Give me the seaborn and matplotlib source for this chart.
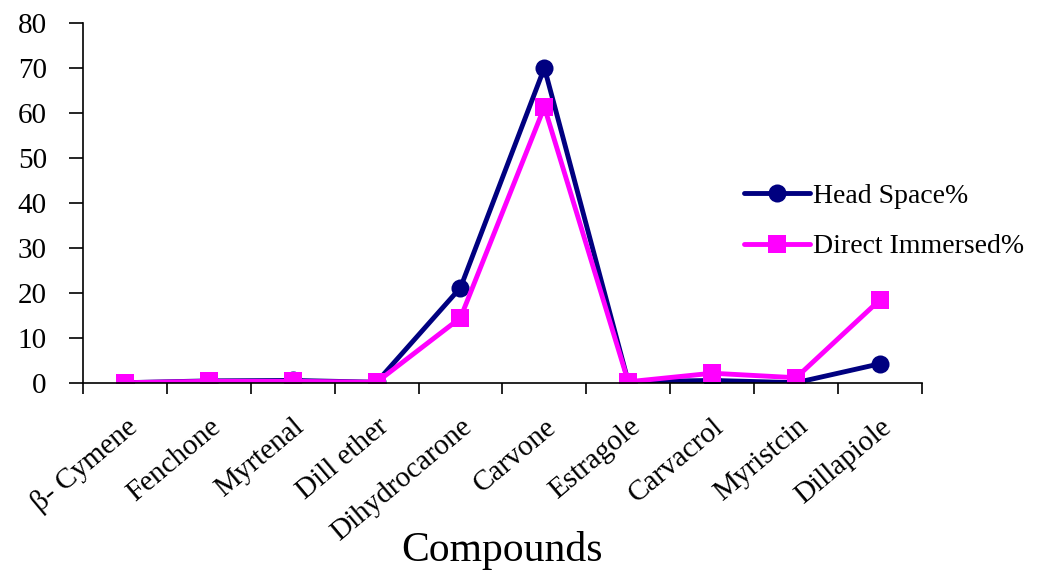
import matplotlib
matplotlib.use("Agg")
import matplotlib.pyplot as plt
import pandas as pd
import seaborn as sns
from matplotlib.ticker import FixedLocator

compounds = ['β- Cymene', 'Fenchone', 'Myrtenal', 'Dill ether', 'Dihydrocarone',
             'Carvone', 'Estragole', 'Carvacrol', 'Myristcin', 'Dillapiole']
head_space = [0.1, 0.5, 0.6, 0.2, 21.2, 70.0, 0.3, 0.6, 0.1, 4.3]
direct_immersed = [0.1, 0.4, 0.4, 0.2, 14.5, 61.3, 0.3, 2.2, 1.2, 18.5]
y_ticks = [0, 10, 20, 30, 40, 50, 60, 70, 80]

df = pd.DataFrame({'Compound': compounds,
                   'Head Space%': head_space,
                   'Direct Immersed%': direct_immersed})
df['pos'] = range(len(compounds))
long_df = df.melt(id_vars=['Compound', 'pos'], var_name='Method', value_name='Percent')

sns.set_style("white")
plt.rcParams['font.family'] = ['Liberation Serif', 'DejaVu Serif']
plt.rcParams['text.color'] = 'black'
plt.rcParams['axes.labelcolor'] = 'black'
plt.rcParams['xtick.color'] = 'black'
plt.rcParams['ytick.color'] = 'black'
plt.rcParams['xtick.bottom'] = True
plt.rcParams['ytick.left'] = True

fig = plt.figure(figsize=(10.5, 5.71), dpi=100)
ax = fig.add_axes([0.079, 0.329, 0.799, 0.631])

sns.lineplot(data=long_df, x='pos', y='Percent', hue='Method', style='Method',
             palette={'Head Space%': '#000080', 'Direct Immersed%': '#FF00FF'},
             markers={'Head Space%': 'o', 'Direct Immersed%': 's'},
             dashes=False, linewidth=3.5, markersize=13, markeredgewidth=0,
             ax=ax, legend=True)

ax.set_xlim(-0.5, len(compounds) - 0.5)
ax.set_ylim(0, 80)
ax.set_yticks(y_ticks)
ax.set_xticks(range(len(compounds)))
ax.set_xticklabels(compounds, rotation=40, ha='right', va='top',
                   rotation_mode='anchor', fontsize=21)
ax.xaxis.set_minor_locator(FixedLocator([i - 0.5 for i in range(len(compounds) + 1)]))
ax.tick_params(axis='x', which='major', length=0, pad=22)
ax.tick_params(axis='x', which='minor', length=8, width=1.2, direction='out')
ax.tick_params(axis='y', length=10, width=1.2, direction='out', labelsize=21, pad=16)

for side in ['top', 'right']:
    ax.spines[side].set_visible(False)
for side in ['left', 'bottom']:
    ax.spines[side].set_color('black')
    ax.spines[side].set_linewidth(1.2)

ax.set_xlabel('Compounds', fontsize=30)
ax.xaxis.label.set_va('center')
ax.xaxis.set_label_coords(0.5, -0.464)
ax.set_ylabel('')

handles, labels = ax.get_legend_handles_labels()
ax.legend(handles, labels, loc='upper left', bbox_to_anchor=(0.695, 0.703),
          bbox_transform=fig.transFigure, frameon=False, fontsize=20,
          borderpad=0, handlelength=2.4, handletextpad=0.1, labelspacing=0.9)

fig.savefig('out.png', dpi=100, facecolor='white')
